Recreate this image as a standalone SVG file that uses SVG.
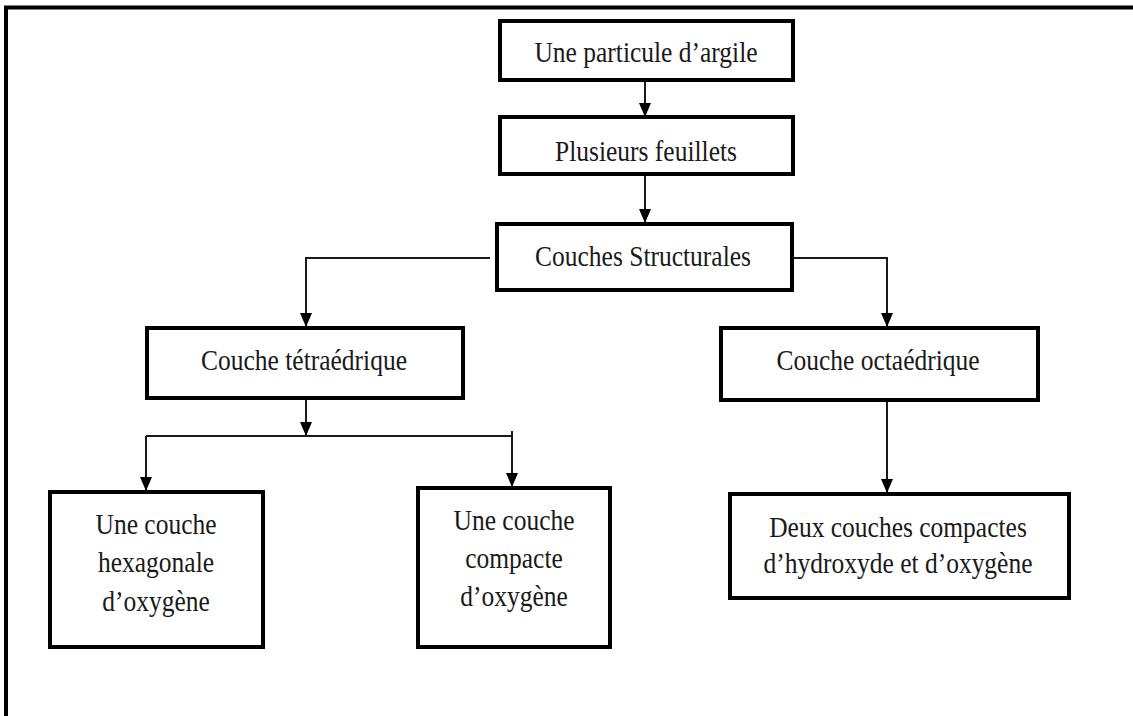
<svg xmlns="http://www.w3.org/2000/svg" width="1133" height="716" viewBox="0 0 1133 716">
<style>
.box{fill:#fff;stroke:#000;stroke-width:4}
.t{font-family:"Liberation Serif","Times New Roman",serif;font-size:25.5px;fill:#1a1a1a;text-anchor:middle}
.c{fill:none;stroke:#1a1a1a;stroke-width:2}
.frame{fill:none;stroke:#000;stroke-width:4}
</style>
<defs>
<marker id="ah" markerUnits="userSpaceOnUse" markerWidth="14" markerHeight="12" refX="14" refY="6" orient="auto" viewBox="0 0 14 12">
<path d="M0,0 L14,6 L0,12 z" fill="#000"/>
</marker>
</defs>
<rect width="1133" height="716" fill="#fff"/>
<path class="frame" d="M6,716 V7.5 H1133"/>
<g id="connectors">
<line class="c" x1="645" y1="81" x2="645" y2="117" marker-end="url(#ah)"/>
<line class="c" x1="645" y1="175" x2="645" y2="223" marker-end="url(#ah)"/>
<polyline class="c" points="490,258 306,258 306,327" marker-end="url(#ah)"/>
<polyline class="c" points="793,258 887,258 887,327" marker-end="url(#ah)"/>
<line class="c" x1="306" y1="399" x2="306" y2="436" marker-end="url(#ah)"/>
<line class="c" x1="146" y1="436" x2="512" y2="436"/>
<line class="c" x1="146" y1="436" x2="146" y2="491" marker-end="url(#ah)"/>
<line class="c" x1="512" y1="431" x2="512" y2="487" marker-end="url(#ah)"/>
<line class="c" x1="887" y1="401" x2="887" y2="493" marker-end="url(#ah)"/>
</g>
<g id="n1">
<rect class="box" x="500" y="21" width="293" height="59"/>
<text class="t" transform="translate(646,62) scale(1,1.12)">Une particule d’argile</text>
</g>
<g id="n2">
<rect class="box" x="500" y="117" width="293" height="57"/>
<text class="t" transform="translate(646,161) scale(1,1.12)">Plusieurs feuillets</text>
</g>
<g id="n3">
<rect class="box" x="497" y="224" width="295" height="66"/>
<text class="t" transform="translate(643,266) scale(1,1.12)">Couches Structurales</text>
</g>
<g id="n4">
<rect class="box" x="147" y="328" width="316" height="70"/>
<text class="t" transform="translate(304,370) scale(1,1.12)">Couche tétraédrique</text>
</g>
<g id="n5">
<rect class="box" x="721" y="328" width="317" height="72"/>
<text class="t" transform="translate(878,370) scale(1,1.12)">Couche octaédrique</text>
</g>
<g id="n6">
<rect class="box" x="50" y="492" width="213" height="155"/>
<text class="t" transform="translate(156,534) scale(1,1.12)">Une couche</text>
<text class="t" transform="translate(156,572) scale(1,1.12)">hexagonale</text>
<text class="t" transform="translate(156,611) scale(1,1.12)">d’oxygène</text>
</g>
<g id="n7">
<rect class="box" x="418" y="488" width="192" height="159"/>
<text class="t" transform="translate(514,530) scale(1,1.12)">Une couche</text>
<text class="t" transform="translate(514,568) scale(1,1.12)">compacte</text>
<text class="t" transform="translate(514,606) scale(1,1.12)">d’oxygène</text>
</g>
<g id="n8">
<rect class="box" x="730" y="494" width="339" height="104"/>
<text class="t" transform="translate(898,537) scale(1,1.12)">Deux couches compactes</text>
<text class="t" transform="translate(898,573) scale(1,1.12)">d’hydroxyde et d’oxygène</text>
</g>
</svg>
